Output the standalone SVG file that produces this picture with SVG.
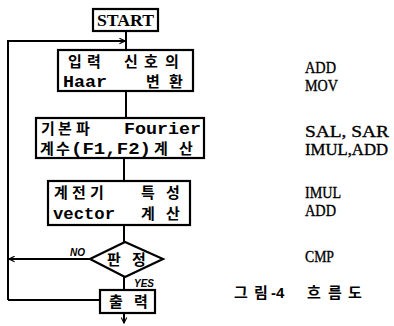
<svg xmlns="http://www.w3.org/2000/svg" width="394" height="326" viewBox="0 0 394 326">
<style>
.box{fill:#fff;stroke:#000;stroke-width:2.2}
.ln{fill:none;stroke:#000;stroke-width:2}
.ko{font-family:"Noto Sans CJK KR",sans-serif;font-weight:bold;font-size:15px;fill:#000;text-anchor:middle}
.mono{font-family:"Liberation Mono",monospace;font-weight:bold;font-size:16px;fill:#000}
.rt{font-family:"Liberation Serif",serif;font-size:16px;fill:#000;stroke:#000;stroke-width:0.35}
.sm{font-family:"Liberation Sans",sans-serif;font-size:10px;font-style:italic;font-weight:bold;fill:#000}
</style>
<defs>
<marker id="ah" viewBox="0 0 10 10" refX="9" refY="5" markerWidth="7" markerHeight="7" orient="auto" markerUnits="userSpaceOnUse">
<path d="M1,1 L9,5 L1,9" fill="none" stroke="#000" stroke-width="1.6"/>
</marker>
</defs>
<g id="connectors">
<path class="ln" d="M126,31 V50"/>
<path class="ln" d="M126,91 V118"/>
<path class="ln" d="M124,158 V181"/>
<path class="ln" d="M124,225 V242"/>
<path class="ln" d="M124,277 V290"/>
<path class="ln" d="M8,300 V41 H125" marker-end="url(#ah)"/>
<path class="ln" d="M8,300 H100"/>
<path class="ln" d="M90,259 H9" marker-end="url(#ah)"/>
<path class="ln" d="M124,313 V323" marker-end="url(#ah)"/>
</g>
<g id="start">
<rect class="box" x="93" y="9" width="65" height="22"/>
<text x="97" y="26" font-family="Liberation Serif,serif" font-weight="bold" font-size="17" textLength="57" lengthAdjust="spacingAndGlyphs">START</text>
</g>
<g id="box1">
<rect class="box" x="58" y="50" width="135" height="41"/>
<text class="ko" y="67"><tspan x="75">입</tspan><tspan x="94">력</tspan><tspan x="131">신</tspan><tspan x="151">호</tspan><tspan x="172">의</tspan></text>
<text class="mono" x="63" y="87" textLength="44" lengthAdjust="spacingAndGlyphs">Haar</text>
<text class="ko" y="87"><tspan x="153">변</tspan><tspan x="176">환</tspan></text>
</g>
<g id="box2">
<rect class="box" x="36" y="118" width="168" height="40"/>
<text class="ko" y="134"><tspan x="48">기</tspan><tspan x="65">본</tspan><tspan x="83">파</tspan></text>
<text class="mono" x="124" y="134" textLength="77" lengthAdjust="spacingAndGlyphs">Fourier</text>
<text class="ko" y="154"><tspan x="47">계</tspan><tspan x="63">수</tspan></text>
<text class="mono" x="71" y="154" textLength="80" lengthAdjust="spacingAndGlyphs">(F1,F2)</text>
<text class="ko" y="154"><tspan x="161">계</tspan><tspan x="186">산</tspan></text>
</g>
<g id="box3">
<rect class="box" x="48" y="181" width="142" height="44"/>
<text class="ko" y="198"><tspan x="61">계</tspan><tspan x="79">전</tspan><tspan x="97">기</tspan><tspan x="148">특</tspan><tspan x="173">성</tspan></text>
<text class="mono" x="53" y="219" textLength="62" lengthAdjust="spacingAndGlyphs">vector</text>
<text class="ko" y="219"><tspan x="148">계</tspan><tspan x="173">산</tspan></text>
</g>
<g id="decision">
<polygon points="90,259 125,242 163,259 125,277" fill="#fff" stroke="#000" stroke-width="2.2"/>
<text class="ko" y="265"><tspan x="114">판</tspan><tspan x="139">정</tspan></text>
<text class="sm" x="70" y="256">NO</text>
<text class="sm" x="134" y="287">YES</text>
</g>
<g id="output">
<rect class="box" x="100" y="290" width="55" height="23"/>
<text class="ko" y="307"><tspan x="116">출</tspan><tspan x="141">력</tspan></text>
</g>
<g id="ops">
<text class="rt" x="305" y="73" textLength="31" lengthAdjust="spacingAndGlyphs">ADD</text>
<text class="rt" x="305" y="91" textLength="33" lengthAdjust="spacingAndGlyphs">MOV</text>
<text class="rt" x="305" y="137" textLength="84" lengthAdjust="spacingAndGlyphs">SAL,  SAR</text>
<text class="rt" x="305" y="155" textLength="83" lengthAdjust="spacingAndGlyphs">IMUL,ADD</text>
<text class="rt" x="305" y="198" textLength="36" lengthAdjust="spacingAndGlyphs">IMUL</text>
<text class="rt" x="305" y="216" textLength="31" lengthAdjust="spacingAndGlyphs">ADD</text>
<text class="rt" x="305" y="262" textLength="29" lengthAdjust="spacingAndGlyphs">CMP</text>
</g>
<g id="caption">
<text class="ko" y="298"><tspan x="241">그</tspan><tspan x="261">림</tspan></text>
<text x="271" y="298" font-family="Liberation Sans,sans-serif" font-weight="bold" font-size="15">-4</text>
<text class="ko" y="298"><tspan x="314">흐</tspan><tspan x="335">름</tspan><tspan x="355">도</tspan></text>
</g>
</svg>
